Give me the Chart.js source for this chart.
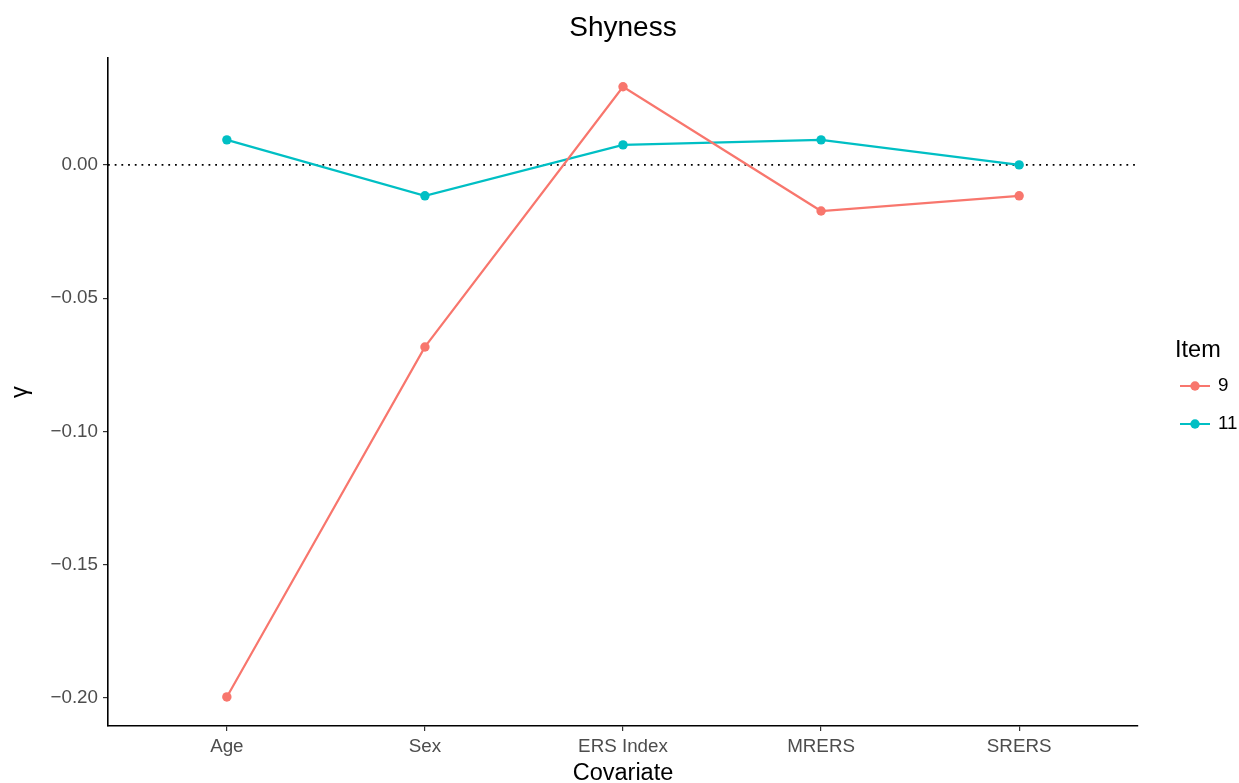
<!DOCTYPE html>
<html>
<head>
<meta charset="utf-8">
<script src="https://cdn.jsdelivr.net/npm/chart.js@4.4.1/dist/chart.umd.min.js"></script>
<style>
  html, body { margin: 0; padding: 0; background: #fff; }
  #wrap { width: 1239px; height: 783px; position: relative; }
</style>
</head>
<body>
<div id="wrap"><canvas id="chart" width="1239" height="783"></canvas></div>
<script>
// data
const categories = ['Age', 'Sex', 'ERS Index', 'MRERS', 'SRERS'];
const item9 = [-0.1996, -0.0683, 0.0293, -0.0173, -0.0116];
const item11 = [0.0094, -0.0116, 0.0075, 0.0094, 0.0000];
const yTicks = [0.00, -0.05, -0.10, -0.15, -0.20];
const seriesNames = ['9', '11'];
const seriesColors = ['#F8766D', '#00BFC4'];

const FONT = "'Liberation Sans', Arial, sans-serif";
const toPoints = (vals) => vals.map((v, i) => ({ x: i, y: v }));

// dotted zero line + title + legend
const extras = {
  id: 'extras',
  beforeDatasetsDraw(chart) {
    const { ctx, chartArea } = chart;
    const y = chart.scales.y.getPixelForValue(0);
    ctx.save();
    ctx.strokeStyle = '#000';
    ctx.lineWidth = 1.8;
    ctx.setLineDash([1.8, 4.9]);
    ctx.beginPath();
    ctx.moveTo(chartArea.left, y);
    ctx.lineTo(chartArea.right, y);
    ctx.stroke();
    ctx.restore();
  },
  afterDraw(chart) {
    const { ctx } = chart;
    ctx.save();
    ctx.fillStyle = '#000';
    ctx.textAlign = 'center';
    ctx.textBaseline = 'middle';
    ctx.font = `28px ${FONT}`;
    ctx.fillText('Shyness', (chart.chartArea.left + chart.chartArea.right) / 2, 28);

    // legend
    ctx.textAlign = 'left';
    ctx.font = `23.5px ${FONT}`;
    ctx.fillText('Item', 1175, 351);
    ctx.font = `18.8px ${FONT}`;
    seriesNames.forEach((name, i) => {
      const ly = 386 + i * 38;
      ctx.strokeStyle = seriesColors[i];
      ctx.fillStyle = seriesColors[i];
      ctx.lineWidth = 2;
      ctx.beginPath();
      ctx.moveTo(1180, ly);
      ctx.lineTo(1210, ly);
      ctx.stroke();
      ctx.beginPath();
      ctx.arc(1195, ly, 4.7, 0, Math.PI * 2);
      ctx.fill();
      ctx.fillStyle = '#000';
      ctx.fillText(name, 1218, ly);
    });
    ctx.restore();
  }
};

new Chart(document.getElementById('chart'), {
  type: 'line',
  data: {
    datasets: [item9, item11].map((vals, i) => ({
      label: seriesNames[i],
      data: toPoints(vals),
      borderColor: seriesColors[i],
      backgroundColor: seriesColors[i],
      borderWidth: 2.2,
      pointRadius: 4.7,
      pointBorderWidth: 0,
      tension: 0
    }))
  },
  options: {
    responsive: false,
    animation: false,
    layout: { padding: { left: 0, right: 101, top: 58, bottom: 0 } },
    plugins: { legend: { display: false }, tooltip: { enabled: false } },
    scales: {
      x: {
        type: 'linear',
        min: -0.6,
        max: categories.length - 1 + 0.6,
        afterBuildTicks: (s) => { s.ticks = categories.map((c, i) => ({ value: i })); },
        afterFit: (s) => { s.height = 57; },
        border: { display: true, color: '#000', width: 1.6 },
        grid: { drawOnChartArea: false, drawTicks: true, tickLength: 5, color: '#333', lineWidth: 1.2 },
        ticks: {
          autoSkip: false,
          maxRotation: 0,
          padding: 5,
          color: '#4d4d4d',
          font: { family: FONT, size: 18.8 },
          callback: (v) => categories[v]
        },
        title: {
          display: true,
          text: 'Covariate',
          color: '#000',
          font: { family: FONT, size: 23.5 },
          padding: { top: 0, bottom: -5 }
        }
      },
      y: {
        min: -0.2105,
        max: 0.0401,
        afterBuildTicks: (s) => { s.ticks = yTicks.map((v) => ({ value: v })); },
        afterFit: (s) => { s.width = 108; },
        border: { display: true, color: '#000', width: 1.6 },
        grid: { drawOnChartArea: false, drawTicks: true, tickLength: 5, color: '#333', lineWidth: 1.2 },
        ticks: {
          padding: 5,
          color: '#4d4d4d',
          font: { family: FONT, size: 18.8 },
          callback: (v) => (v < 0 ? '\u2212' : '') + Math.abs(v).toFixed(2)
        },
        title: {
          display: true,
          text: 'γ',
          color: '#000',
          font: { family: FONT, size: 23.5 },
          padding: { top: 6, bottom: 0 }
        }
      }
    }
  },
  plugins: [extras]
});
</script>
</body>
</html>
